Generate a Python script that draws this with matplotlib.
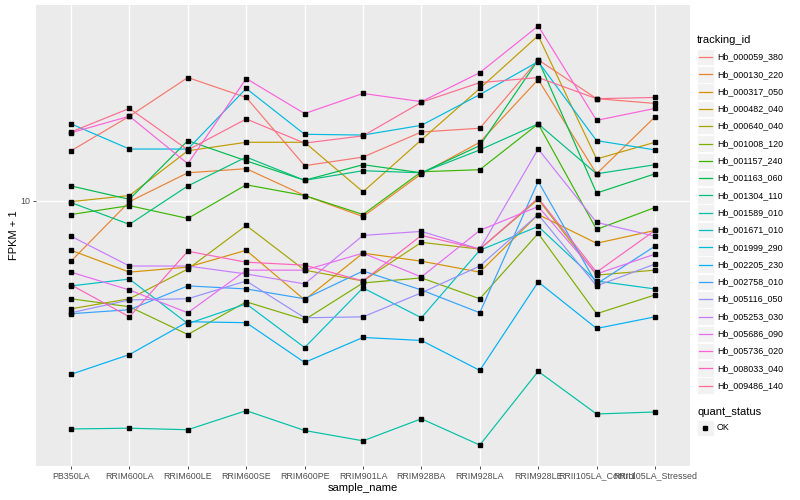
import numpy as np
import matplotlib
matplotlib.use('Agg')
import matplotlib.pyplot as plt
from matplotlib.patches import Rectangle
from matplotlib.ticker import FixedLocator, FixedFormatter, NullLocator

plt.rcParams['font.family'] = ['Liberation Sans', 'DejaVu Sans']

samples = ['PB350LA', 'RRIM600LA', 'RRIM600LE', 'RRIM600SE', 'RRIM600PE',
           'RRIM901LA', 'RRIM928BA', 'RRIM928LA', 'RRIM928LE',
           'RRII105LA_Control', 'RRII105LA_Stressed']

genes = ['Hb_000059_380', 'Hb_000130_220', 'Hb_000317_050', 'Hb_000482_040',
         'Hb_000640_040', 'Hb_001008_120', 'Hb_001157_240', 'Hb_001163_060',
         'Hb_001304_110', 'Hb_001589_010', 'Hb_001671_010', 'Hb_001999_290',
         'Hb_002205_230', 'Hb_002758_010', 'Hb_005116_050', 'Hb_005253_030',
         'Hb_005686_090', 'Hb_005736_020', 'Hb_008033_040', 'Hb_009486_140']

# ggplot hue palette for 20 levels
colors = ['#F8766D', '#EA8331', '#D89000', '#C09B00', '#A3A500', '#7CAE00',
          '#39B600', '#00BB4E', '#00BF7D', '#00C1A3', '#00BFC4', '#00BAE0',
          '#00B0F6', '#35A2FF', '#9590FF', '#C77CFF', '#E76BF3', '#FA62DB',
          '#FF62BC', '#FF6C91']

# FPKM + 1, one value per sample
hb_000059_380 = [14.7, 19.2, 25.9, 22.2, 13.1, 14.0, 17.0, 17.5, 29.7, 22.0, 21.2]
hb_000130_220 = [6.26, 9.92, 12.4, 12.8, 10.4, 8.84, 12.3, 15.7, 25.5, 12.3, 19.1]
hb_000317_050 = [6.81, 5.75, 5.98, 6.81, 4.64, 6.66, 6.26, 5.75, 8.98, 7.19, 7.94]
hb_000482_040 = [9.92, 10.4, 14.7, 15.7, 15.7, 10.7, 16.0, 23.8, 35.8, 13.8, 15.7]
hb_000640_040 = [4.33, 4.68, 5.89, 8.25, 5.84, 5.37, 7.24, 6.87, 10.1, 5.62, 5.84]
hb_001008_120 = [4.68, 4.40, 3.55, 4.57, 3.98, 5.29, 5.50, 4.68, 7.76, 4.17, 4.82]
hb_001157_240 = [8.98, 9.62, 8.71, 11.3, 10.4, 8.98, 12.5, 12.7, 18.1, 8.00, 9.48]
hb_001163_060 = [11.2, 10.1, 15.9, 13.6, 11.7, 13.2, 12.4, 15.3, 29.7, 10.6, 12.3]
hb_001304_110 = [9.85, 8.32, 11.2, 14.0, 11.7, 12.6, 12.4, 14.8, 18.1, 12.3, 13.2]
hb_001589_010 = [1.71, 1.72, 1.70, 1.97, 1.69, 1.56, 1.85, 1.51, 2.67, 1.92, 1.95]
hb_001671_010 = [5.17, 5.45, 3.86, 4.50, 3.21, 5.09, 4.04, 6.81, 8.19, 5.37, 5.05]
hb_001999_290 = [18.1, 14.9, 14.9, 23.8, 16.7, 16.6, 17.9, 22.7, 29.3, 15.9, 14.8]
hb_002205_230 = [2.61, 3.04, 3.92, 3.89, 2.86, 3.47, 3.39, 2.69, 5.33, 3.72, 4.07]
hb_002758_010 = [4.17, 4.30, 5.17, 5.05, 4.68, 5.80, 5.01, 4.20, 11.6, 5.25, 7.03]
hb_005116_050 = [4.20, 4.64, 4.68, 5.37, 4.04, 4.07, 4.90, 6.03, 8.98, 5.17, 6.12]
hb_005253_030 = [7.59, 6.03, 6.03, 5.67, 5.25, 7.64, 7.88, 6.87, 14.9, 8.45, 7.59]
hb_005686_090 = [5.75, 5.01, 4.20, 5.84, 5.84, 6.66, 5.54, 7.94, 9.55, 5.67, 6.61]
hb_005736_020 = [16.9, 19.2, 13.3, 25.7, 19.6, 22.9, 21.5, 26.9, 38.6, 18.6, 20.4]
hb_008033_040 = [5.21, 4.07, 6.76, 6.21, 6.07, 5.37, 7.64, 6.87, 10.2, 5.75, 7.94]
hb_009486_140 = [17.0, 20.4, 14.8, 18.8, 15.6, 16.5, 21.4, 24.9, 25.9, 22.0, 22.2]

fpkm = [hb_000059_380, hb_000130_220, hb_000317_050, hb_000482_040,
        hb_000640_040, hb_001008_120, hb_001157_240, hb_001163_060,
        hb_001304_110, hb_001589_010, hb_001671_010, hb_001999_290,
        hb_002205_230, hb_002758_010, hb_005116_050, hb_005253_030,
        hb_005686_090, hb_005736_020, hb_008033_040, hb_009486_140]

W, H = 800, 500
fig = plt.figure(figsize=(8, 5), dpi=100)
fig.patch.set_facecolor('white')
ax = fig.add_axes([36 / W, (H - 466) / H, 654 / W, 461 / H])
ax.set_facecolor('#EBEBEB')

x = np.arange(len(samples))
for vals, col in zip(fpkm, colors):
    ax.plot(x, vals, color=col, lw=0.85, zorder=2)
for vals in fpkm:
    ax.plot(x, vals, ls='none', marker='s', ms=2.2, color='black', zorder=3)

ax.set_yscale('log')
logs = np.log10(np.concatenate([np.array(v) for v in fpkm]))
lo, hi = logs.min(), logs.max()
pad = 0.05 * (hi - lo)
ax.set_ylim(10 ** (lo - pad), 10 ** (hi + pad))
ax.set_xlim(-0.6, len(samples) - 0.4)

ax.yaxis.set_major_locator(FixedLocator([10]))
ax.yaxis.set_major_formatter(FixedFormatter(['10']))
ax.yaxis.set_minor_locator(NullLocator())
ax.set_xticks(x)
ax.set_xticklabels(samples)

ax.grid(True, which='major', color='white', lw=1.0, zorder=0)
ax.set_axisbelow(True)
for s in ax.spines.values():
    s.set_visible(False)
ax.tick_params(axis='both', length=2.5, width=0.6, color='#333333',
               labelsize=6.4, labelcolor='#4D4D4D', pad=1.5)
ax.set_xlabel('sample_name', fontsize=8, labelpad=2)
ax.set_ylabel('FPKM + 1', fontsize=8, labelpad=1)

# legend drawn in pixel coordinates
lax = fig.add_axes([0, 0, 1, 1])
lax.set_xlim(0, W)
lax.set_ylim(H, 0)
lax.axis('off')

lax.text(697, 40, 'tracking_id', fontsize=8, va='center', ha='left')
for i, (name, col) in enumerate(zip(genes, colors)):
    yc = 57 + i * 17.3
    lax.add_patch(Rectangle((697, yc - 8.3), 16.6, 16.6, fc='#F2F2F2', ec='white', lw=0.6))
    lax.plot([699, 711.5], [yc, yc], color=col, lw=0.9)
    lax.text(717, yc, name, fontsize=6.4, va='center', ha='left')

lax.text(697, 412, 'quant_status', fontsize=8, va='center', ha='left')
lax.add_patch(Rectangle((697, 428 - 8.3), 16.6, 16.6, fc='#F2F2F2', ec='white', lw=0.6))
lax.plot([705.3], [428], ls='none', marker='s', ms=2.2, color='black')
lax.text(717, 428, 'OK', fontsize=6.4, va='center', ha='left')

fig.savefig('out.png', dpi=100)
